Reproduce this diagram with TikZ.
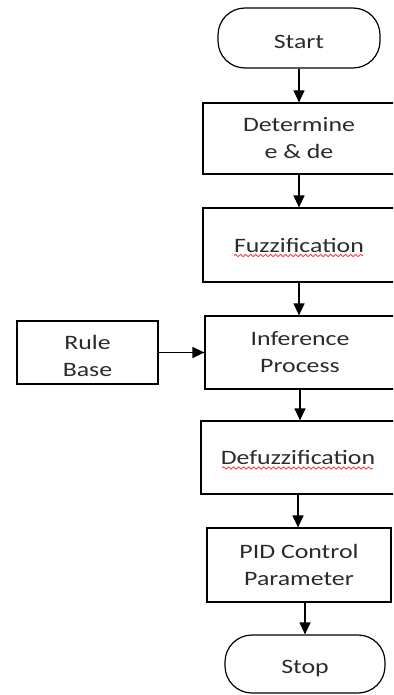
\documentclass[tikz,border=0pt]{standalone}
\usepackage{fontspec}
\setmainfont{Carlito}[FakeStretch=1.26]
\usetikzlibrary{arrows.meta,calc,decorations.pathmorphing}
\definecolor{txt}{HTML}{2B2B2B}
\newcommand{\lowered}[2]{\raisebox{-#1}[\height][\depth]{#2}}
\begin{document}
\begin{tikzpicture}[x=1pt,y=-1pt,
  font=\fontsize{20.5}{27}\selectfont,
  box/.style={draw,line width=1.2pt,inner sep=0pt,align=center,text=txt},
  term/.style={box,rounded corners=27pt},
  flow/.style={line width=1.2pt,-{Triangle[length=12pt,width=11pt]}},
  spell/.style={draw=red!80,line width=0.8pt,decorate,
    decoration={snake,amplitude=1.2pt,segment length=5pt}}]
\useasboundingbox (0,0) rectangle (393,695);
\clip (0,0) rectangle (393,695);
\node[term,minimum width=162pt,minimum height=60pt] (start) at (299,38) {\lowered{4pt}{Start}};
\node[box,minimum width=192pt,minimum height=71pt] (det) at (299,138.5) {Determine\\e \& de};
\node[box,minimum width=192pt,minimum height=74pt] (fuz) at (299,245) {Fuzzification};
\node[box,minimum width=190pt,minimum height=73pt] (inf) at (300,352.5) {Inference\\Process};
\node[box,minimum width=141pt,minimum height=63pt] (rule) at (87.5,352.5) {\lowered{3pt}{Rule}\\\lowered{3pt}{Base}};
\node[box,minimum width=194pt,minimum height=73pt] (def) at (298,457.5) {Defuzzification};
\node[box,minimum width=184pt,minimum height=74pt] (pid) at (299,565) {PID Control\\Parameter};
\node[term,minimum width=160pt,minimum height=58pt] (stop) at (305,664) {\lowered{4pt}{Stop}};

\draw[flow] (start.south) -- (det.north);
\draw[flow] (det.south) -- (fuz.north);
\draw[flow] (fuz.south) -- (fuz.south |- inf.north);
\draw[flow] (rule.east) -- (inf.west);
\draw[flow] (inf.south) -- (inf.south |- def.north);
\draw[flow] (def.south) -- (def.south |- pid.north);
\draw[flow] (pid.south -| stop.north) -- (stop.north);

% spell-check squiggles under the two coined words
\draw[spell] ($(fuz.center)+(-65,10.5)$) -- ($(fuz.center)+(64,10.5)$);
\draw[spell] ($(def.center)+(-76,10.5)$) -- ($(def.center)+(75,10.5)$);
\end{tikzpicture}
\end{document}
